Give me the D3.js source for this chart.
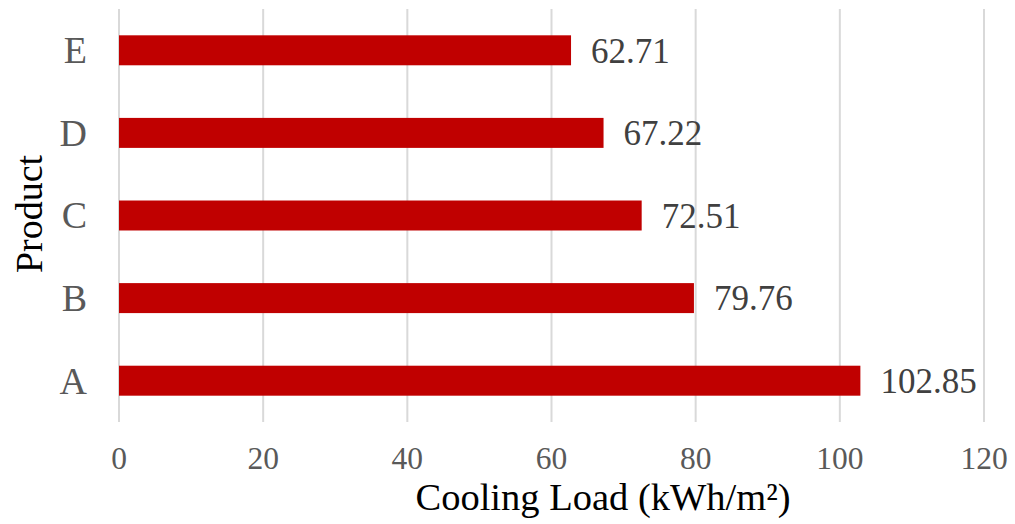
<!DOCTYPE html>
<html><head><meta charset="utf-8">
<script src="https://cdn.jsdelivr.net/npm/d3@7"></script>
<style>body{margin:0;background:#fff}svg{display:block}</style>
</head><body>
<svg id="c" width="1015" height="524"></svg>
<script>
const categories = ["A","B","C","D","E"];
const values = [102.85, 79.76, 72.51, 67.22, 62.71];
const xTicks = [0,20,40,60,80,100,120];
const xTitle = "Cooling Load (kWh/m²)";
const yTitle = "Product";

const svg = d3.select("#c");
const font = "'Liberation Serif','Times New Roman',serif";
const x = d3.scaleLinear().domain([0,120]).range([119,984]);
const y = d3.scaleBand().domain(categories.slice().reverse()).range([9,422]).paddingInner(0.637).paddingOuter(0.3185);

svg.append("g").selectAll("line").data(xTicks).join("line")
  .attr("x1",d=>x(d)).attr("x2",d=>x(d)).attr("y1",9).attr("y2",422)
  .attr("stroke","#d9d9d9").attr("stroke-width",2);

svg.append("g").selectAll("rect").data(categories).join("rect")
  .attr("x",x(0)).attr("y",d=>y(d))
  .attr("width",(d,i)=>x(values[i])-x(0)).attr("height",y.bandwidth())
  .attr("fill","#c00000");

svg.append("g").selectAll("text").data(categories).join("text")
  .attr("x",(d,i)=>x(values[i])+20).attr("y",d=>y(d)+y.bandwidth()/2)
  .attr("dy","0.35em").attr("font-family",font).attr("font-size",35)
  .attr("fill","#404040").text((d,i)=>values[i].toFixed(2));

svg.append("g").selectAll("text").data(categories).join("text")
  .attr("x",87).attr("y",d=>y(d)+y.bandwidth()/2).attr("text-anchor","end")
  .attr("dy","0.34em").attr("font-family",font).attr("font-size",38)
  .attr("fill","#595959").text(d=>d);

svg.append("g").selectAll("text").data(xTicks).join("text")
  .attr("x",d=>x(d)).attr("y",469).attr("text-anchor","middle")
  .attr("font-family",font).attr("font-size",31.5)
  .attr("fill","#595959").text(d=>d);

svg.append("text").attr("x",603).attr("y",510).attr("text-anchor","middle")
  .attr("font-family",font).attr("font-size",38.5).attr("fill","#000").text(xTitle);

svg.append("text").attr("transform","translate(42,214) rotate(-90)").attr("text-anchor","middle")
  .attr("font-family",font).attr("font-size",38).attr("fill","#000").text(yTitle);
</script>
</body></html>
